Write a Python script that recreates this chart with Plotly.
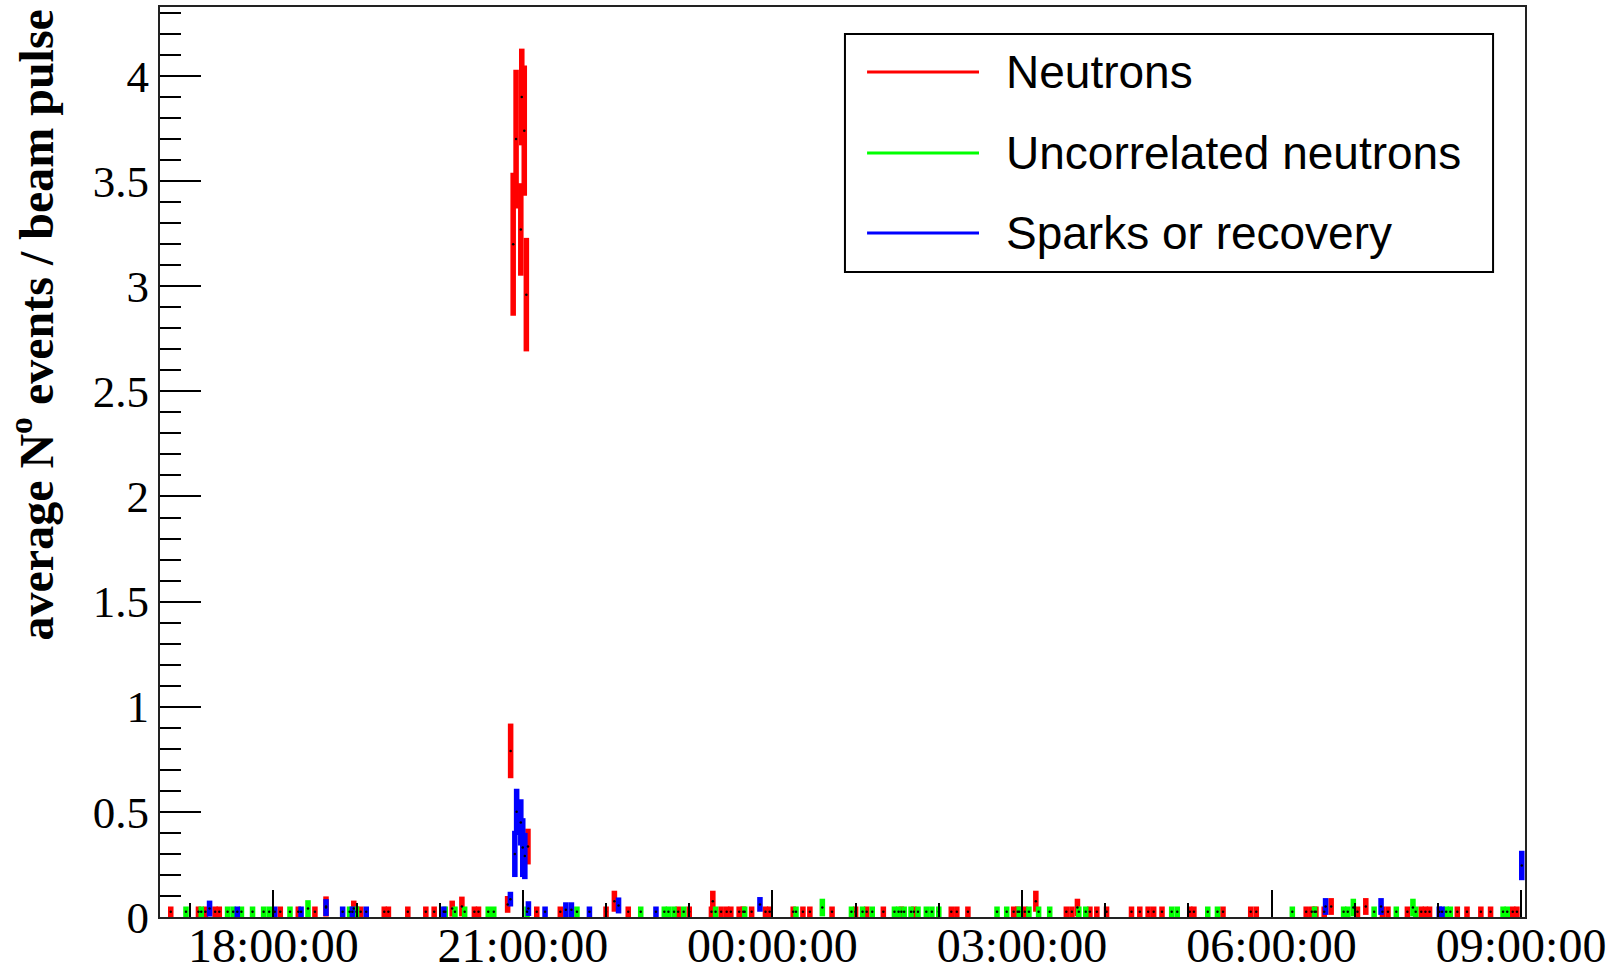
import plotly.graph_objects as go
from datetime import datetime, timedelta

# ---------------- data ----------------
BASE_V = 0.025   # typical near-zero value
BASE_E = 0.025   # its error
BIN_HALF_MIN = 2.0  # x half-width of each point, minutes

neutrons = [
    "16:46", "17:06", "17:11", "17:18", "17:21", "18:05", "18:18", "18:30",
    ("18:38", 0.05, 0.048), ("18:58", 0.04, 0.038), "19:03", "19:20", "19:23",
    "19:37", "19:50", "19:56", ("20:09", 0.04, 0.038), ("20:16", 0.05, 0.047),
    "20:25", "20:28", ("20:49", 0.06, 0.04), ("20:51:10", 0.79, 0.13),
    ("20:53:00", 3.20, 0.34), ("20:55:06", 3.70, 0.33), ("20:58:30", 3.27, 0.22),
    ("20:59:12", 3.90, 0.23), ("21:01:00", 3.74, 0.31), ("21:02:30", 2.96, 0.27),
    ("21:03:40", 0.335, 0.085), "21:10", "21:27", "22:00", ("22:06", 0.075, 0.05),
    "22:16", "22:52", "23:00", "23:16", ("23:17", 0.075, 0.05), "23:23", "23:27",
    "23:30", "23:36", "23:39", "23:45", "23:55", "23:58", "00:15", "00:22",
    "00:27", "00:43", "01:00", "01:08", "01:20", "01:33", "01:42", "02:09",
    "02:13", "02:21", "02:54", "02:57", "03:02", ("03:10", 0.075, 0.05),
    "03:32", "03:36", ("03:40", 0.045, 0.042), "03:49", "03:54", "04:01",
    "04:19", "04:25", "04:31", "04:35", "04:41", "05:01", "05:04", "05:25",
    "05:45", "05:49", "06:25", "06:29", "06:32", "06:38", ("06:43", 0.05, 0.04),
    "07:02", ("07:08", 0.05, 0.04), "07:20", "07:24", "07:38", "07:48", "07:51",
    "07:54", "08:14", "08:21", "08:31", "08:38", "08:54", "08:57",
]

uncorrelated = [
    "16:57", "17:08", "17:27", "17:31", "17:37", "17:45", "17:53", "17:57",
    "18:12", ("18:25", 0.04, 0.04), "18:55", "19:00", "20:04", "20:11", "20:18",
    "20:35", "20:39", "21:03", "21:39", "22:25", "22:42", "22:45", "22:49",
    "22:56", "23:19", "23:40", "00:17", ("00:36", 0.045, 0.042), "00:57",
    "01:05", "01:12", "01:28", "01:31", "01:35", "01:40", "01:45", "01:51",
    "01:55", "02:00", "02:42", "02:49", "02:58", "03:05", "03:12", "03:20",
    "03:41", "03:46", "04:48", "04:52", "05:14", "05:21", "06:15", "06:31",
    "06:52", "06:55", ("06:59", 0.045, 0.042), "07:14", "07:30",
    ("07:42", 0.045, 0.042), "07:44", "08:06", "08:09", "08:47", "08:50",
]

sparks = [
    ("17:14", 0.04, 0.038), "17:34", "18:01", "18:20", ("18:38", 0.045, 0.04),
    "18:50", "18:57", "19:07", "20:03", ("20:51", 0.085, 0.035),
    ("20:54:12", 0.30, 0.11), ("20:55:30", 0.50, 0.11), ("20:58:30", 0.45, 0.11),
    ("20:59:54", 0.33, 0.14), ("21:01:24", 0.29, 0.11), ("21:04", 0.04, 0.035),
    "21:16", ("21:31", 0.035, 0.035), ("21:35", 0.035, 0.035), "21:48",
    ("22:09", 0.055, 0.038), "22:36", ("23:51", 0.06, 0.035),
    ("06:39", 0.05, 0.04), ("07:19", 0.05, 0.04), "08:01", "08:03",
    ("09:00:30", 0.245, 0.07),
]

series_names = ["Neutrons", "Uncorrelated neutrons", "Sparks or recovery"]
series_colors = ["#ff0000", "#00ff00", "#0000ff"]
series_data = [neutrons, uncorrelated, sparks]

x_ticks = ["18:00", "21:00", "00:00", "03:00", "06:00", "09:00"]
x_start, x_end = "16:38:15", "09:02:50"
y_max = 4.328

# ---------------- helpers ----------------
DAY0 = datetime(2012, 3, 22)


def to_dt(s):
    parts = [int(p) for p in s.split(":")]
    h, m = parts[0], parts[1]
    sec = parts[2] if len(parts) > 2 else 0
    d = DAY0 + timedelta(hours=h, minutes=m, seconds=sec)
    if h < 12:
        d += timedelta(days=1)
    return d


def expand(entries):
    xs, vs, es = [], [], []
    for ent in entries:
        if isinstance(ent, str):
            t, v, e = ent, BASE_V, BASE_E
        else:
            t, v, e = ent
        xs.append(to_dt(t))
        vs.append(v)
        es.append(e)
    return xs, vs, es


fig = go.Figure()
all_x, all_v = [], []
bin_ms = 2 * BIN_HALF_MIN * 60 * 1000
for name, color, data in zip(series_names, series_colors, series_data):
    xs, vs, es = expand(data)
    fig.add_trace(go.Bar(
        x=xs, y=[2 * e for e in es], base=[v - e for v, e in zip(vs, es)],
        width=[bin_ms] * len(xs), name=name,
        marker=dict(color=color, line=dict(width=0)),
        showlegend=False, hoverinfo="skip",
    ))
    all_x += xs
    all_v += vs

fig.add_trace(go.Scatter(
    x=all_x, y=all_v, mode="markers",
    marker=dict(size=2.5, color="black"), showlegend=False, hoverinfo="skip",
))

# ---------------- layout ----------------
fig.update_layout(
    width=1619, height=969,
    margin=dict(l=160, r=94, t=7, b=52),
    paper_bgcolor="white", plot_bgcolor="white",
    barmode="overlay", showlegend=False,
)

tick_vals = [to_dt(t) for t in x_ticks]
fig.update_xaxes(
    type="date", range=[to_dt(x_start), to_dt(x_end)],
    tick0=tick_vals[0], dtick=3 * 3600 * 1000, tickformat="%H:%M:%S",
    ticks="inside", ticklen=27, tickwidth=1.5, tickcolor="black",
    showline=True, linecolor="#222", linewidth=2, mirror=True,
    showgrid=False, zeroline=False, automargin=False,
    tickfont=dict(family="Liberation Serif", size=48, color="black"),
    ticklabelstandoff=-15,
    minor=dict(tick0=tick_vals[0], dtick=3600 * 1000, ticks="inside", ticklen=14,
               tickwidth=1.5, tickcolor="black", showgrid=False),
)
fig.update_yaxes(
    range=[0, y_max], tick0=0, dtick=0.5,
    ticks="inside", ticklen=41, tickwidth=1.5, tickcolor="black",
    showline=True, linecolor="#222", linewidth=2, mirror=True,
    showgrid=False, zeroline=False, automargin=False,
    tickfont=dict(family="Liberation Serif", size=45, color="black"),
    ticklabelstandoff=0,
    minor=dict(dtick=0.1, ticks="inside", ticklen=21, tickwidth=1.5,
               tickcolor="black", showgrid=False),
)

# y-axis title (top-aligned, as in the reference)
fig.add_annotation(
    xref="paper", yref="paper", x=-0.0938, y=1.0, xanchor="center", yanchor="top",
    text="<b>average N<sup>o</sup> events / beam pulse</b>", textangle=-90,
    showarrow=False, font=dict(family="Liberation Serif", size=48, color="black"),
)

# legend box
fig.add_shape(type="rect", xref="paper", yref="paper",
              x0=0.5018, x1=0.9766, y0=0.7088, y1=0.9703,
              line=dict(color="black", width=2), fillcolor="white", layer="above")
leg_y = [0.9286, 0.8396, 0.7516]
for name, color, ly in zip(series_names, series_colors, leg_y):
    fig.add_shape(type="line", xref="paper", yref="paper",
                  x0=0.518, x1=0.600, y0=ly, y1=ly,
                  line=dict(color=color, width=3), layer="above")
    fig.add_annotation(xref="paper", yref="paper", x=0.6185, y=ly,
                       xanchor="left", yanchor="middle", text=name, showarrow=False,
                       font=dict(family="Liberation Sans", size=46, color="black"))

fig.write_html("out.html", config={"displayModeBar": False},
               post_script="document.body.style.margin='0';document.body.style.overflow='hidden';")
